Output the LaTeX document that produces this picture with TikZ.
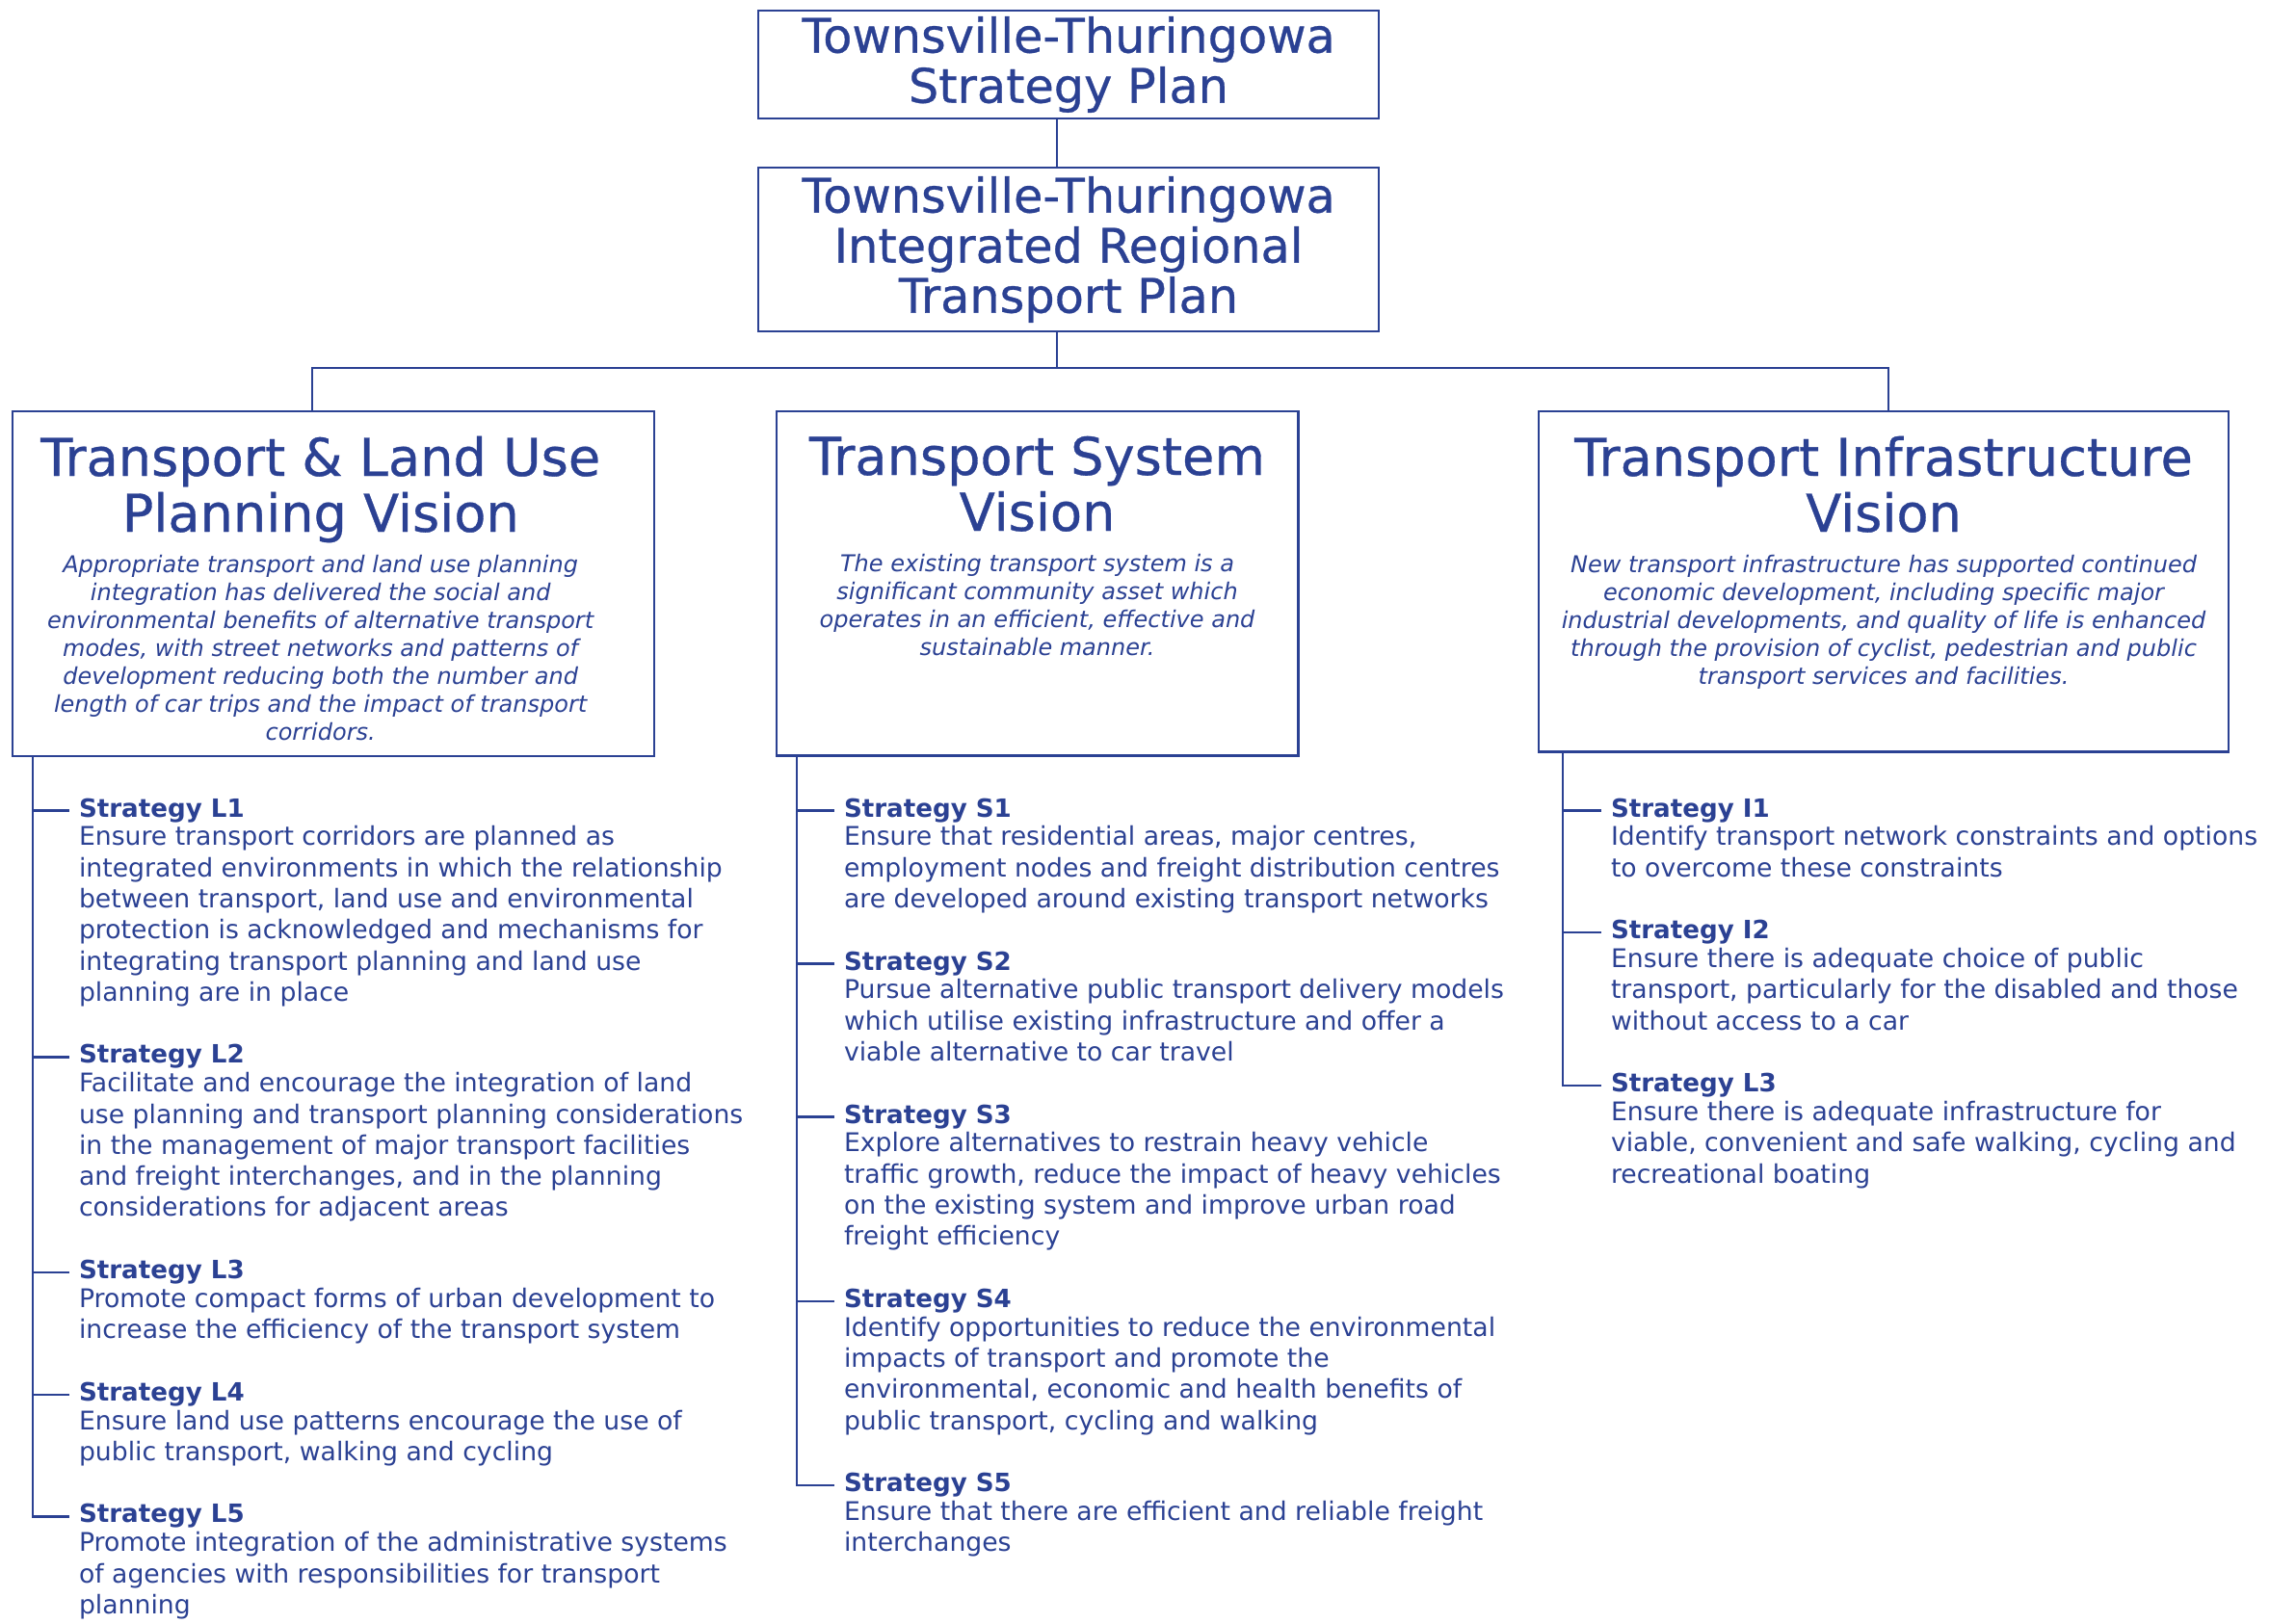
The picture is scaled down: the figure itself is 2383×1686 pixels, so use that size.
\documentclass[tikz,border=0pt]{standalone}
\usepackage{fontspec}
\setmainfont{DejaVu Sans}
\newfontfamily\titlefont{DejaVu Sans}[FakeBold=0.6]
\usepackage{tikz}
\usetikzlibrary{positioning}
\definecolor{navy}{RGB}{43,65,147}

\begin{document}
\begin{tikzpicture}[x=0.375pt,y=-0.375pt,
	plan/.style={draw=navy,line width=1.1pt,text=navy,align=center,inner sep=0pt,minimum width=241.5pt,font=\titlefont\fontsize{18.5}{19.5}\selectfont},
	vision/.style={draw=navy,line width=1.1pt,anchor=north west,inner sep=0pt,outer sep=0pt},
	vtitle/.style={text=navy,align=center,inner sep=0pt,font=\titlefont\fontsize{20.3}{21.75}\selectfont,execute at begin node=\strut,execute at end node=\strut},
	vtext/.style={text=navy,align=center,inner sep=0pt,font=\fontsize{9}{10.9}\selectfont\itshape,execute at begin node=\strut,execute at end node=\strut},
	shead/.style={text=navy,inner xsep=3.75pt,inner ysep=0pt,outer sep=0pt,text height=8.47pt,text depth=3.63pt,font=\fontsize{9.8}{12.1}\selectfont\bfseries},
	sbody/.style={text=navy,align=left,inner xsep=3.75pt,inner ysep=0pt,outer sep=0pt,font=\fontsize{10}{12.1}\selectfont,execute at begin node=\strut,execute at end node=\strut},
	link/.style={draw=navy,line width=0.85pt}]
	\useasboundingbox (0,0) rectangle (2383,1686);

	% plans
	\node[plan,minimum height=42pt] (tsp) at (1109,67) {Townsville-Thuringowa\\Strategy Plan};
	\node[plan,minimum height=63.75pt] (itrp) at (1109,259) {Townsville-Thuringowa\\Integrated Regional\\Transport Plan};

	% visions
	\node[vision,minimum width=249.75pt,minimum height=134.25pt] (tlu) at (13,427) {};
	\node[vision,minimum width=202.9pt,minimum height=133.9pt] (tsv) at (806,427) {};
	\node[vision,minimum width=268.5pt,minimum height=132.5pt] (tiv) at (1597,427) {};

	\node[vtitle,below=9.5pt of tlu.north,xshift=-5pt] (tlut) {Transport \& Land Use\\Planning Vision};
	\node[vtext,below=2pt of tlut] (tlud) {Appropriate transport and land use planning\\integration has delivered the social and\\environmental benefits of alternative transport\\modes, with street networks and patterns of\\development reducing both the number and\\length of car trips and the impact of transport\\corridors.};
	\node[vtitle,below=9.5pt of tsv.north] (tsvt) {Transport System\\Vision};
	\node[vtext,below=2pt of tsvt] (tsvd) {The existing transport system is a\\significant community asset which\\operates in an efficient, effective and\\sustainable manner.};
	\node[vtitle,below=9.5pt of tiv.north] (tivt) {Transport Infrastructure\\Vision};
	\node[vtext,below=2pt of tivt] (tivd) {New transport infrastructure has supported continued\\economic development, including specific major\\industrial developments, and quality of life is enhanced\\through the provision of cyclist, pedestrian and public\\transport services and facilities.};

	% tree
	\coordinate (trunk) at (1097,382);
	\coordinate (dropL) at (324,382);
	\coordinate (dropR) at (1960,382);
	\draw[link] (tsp.south -| trunk) -- (itrp.north -| trunk);
	\draw[link] (itrp.south -| trunk) -- (trunk);
	\draw[link] (tlu.north -| dropL) |- (dropR) -- (tiv.north -| dropR);

	% land use strategies
	\node[shead,anchor=base west] (L1) at (72,848) {Strategy L1};
	\node[sbody,below=0pt of L1.south west,anchor=north west] (L1t) {Ensure transport corridors are planned as\\integrated environments in which the relationship\\between transport, land use and environmental\\protection is acknowledged and mechanisms for\\integrating transport planning and land use\\planning are in place};
	\node[shead,below=12.1pt of L1t.south west,anchor=north west] (L2) {Strategy L2};
	\node[sbody,below=0pt of L2.south west,anchor=north west] (L2t) {Facilitate and encourage the integration of land\\use planning and transport planning considerations\\in the management of major transport facilities\\and freight interchanges, and in the planning\\considerations for adjacent areas};
	\node[shead,below=12.1pt of L2t.south west,anchor=north west] (L3) {Strategy L3};
	\node[sbody,below=0pt of L3.south west,anchor=north west] (L3t) {Promote compact forms of urban development to\\increase the efficiency of the transport system};
	\node[shead,below=12.1pt of L3t.south west,anchor=north west] (L4) {Strategy L4};
	\node[sbody,below=0pt of L4.south west,anchor=north west] (L4t) {Ensure land use patterns encourage the use of\\public transport, walking and cycling};
	\node[shead,below=12.1pt of L4t.south west,anchor=north west] (L5) {Strategy L5};
	\node[sbody,below=0pt of L5.south west,anchor=north west] (L5t) {Promote integration of the administrative systems\\of agencies with responsibilities for transport\\planning};

	% system strategies
	\node[shead,anchor=base west] (S1) at (866,848) {Strategy S1};
	\node[sbody,below=0pt of S1.south west,anchor=north west] (S1t) {Ensure that residential areas, major centres,\\employment nodes and freight distribution centres\\are developed around existing transport networks};
	\node[shead,below=12.1pt of S1t.south west,anchor=north west] (S2) {Strategy S2};
	\node[sbody,below=0pt of S2.south west,anchor=north west] (S2t) {Pursue alternative public transport delivery models\\which utilise existing infrastructure and offer a\\viable alternative to car travel};
	\node[shead,below=12.1pt of S2t.south west,anchor=north west] (S3) {Strategy S3};
	\node[sbody,below=0pt of S3.south west,anchor=north west] (S3t) {Explore alternatives to restrain heavy vehicle\\traffic growth, reduce the impact of heavy vehicles\\on the existing system and improve urban road\\freight efficiency};
	\node[shead,below=12.1pt of S3t.south west,anchor=north west] (S4) {Strategy S4};
	\node[sbody,below=0pt of S4.south west,anchor=north west] (S4t) {Identify opportunities to reduce the environmental\\impacts of transport and promote the\\environmental, economic and health benefits of\\public transport, cycling and walking};
	\node[shead,below=12.1pt of S4t.south west,anchor=north west] (S5) {Strategy S5};
	\node[sbody,below=0pt of S5.south west,anchor=north west] (S5t) {Ensure that there are efficient and reliable freight\\interchanges};

	% infrastructure strategies
	\node[shead,anchor=base west] (I1) at (1662,848) {Strategy I1};
	\node[sbody,below=0pt of I1.south west,anchor=north west] (I1t) {Identify transport network constraints and options\\to overcome these constraints};
	\node[shead,below=12.1pt of I1t.south west,anchor=north west] (I2) {Strategy I2};
	\node[sbody,below=0pt of I2.south west,anchor=north west] (I2t) {Ensure there is adequate choice of public\\transport, particularly for the disabled and those\\without access to a car};
	\node[shead,below=12.1pt of I2t.south west,anchor=north west] (I3) {Strategy L3};
	\node[sbody,below=0pt of I3.south west,anchor=north west] (I3t) {Ensure there is adequate infrastructure for\\viable, convenient and safe walking, cycling and\\recreational boating};

	\coordinate (spL) at (34,0);
	\coordinate (spS) at (827,0);
	\coordinate (spI) at (1622,0);
	\foreach \s in {L1,L2,L3,L4,L5}
		\draw[link] (tlu.south -| spL) |- (\s.west);
	\foreach \s in {S1,S2,S3,S4,S5}
		\draw[link] (tsv.south -| spS) |- (\s.west);
	\foreach \s in {I1,I2,I3}
		\draw[link] (tiv.south -| spI) |- (\s.west);
\end{tikzpicture}
\end{document}
